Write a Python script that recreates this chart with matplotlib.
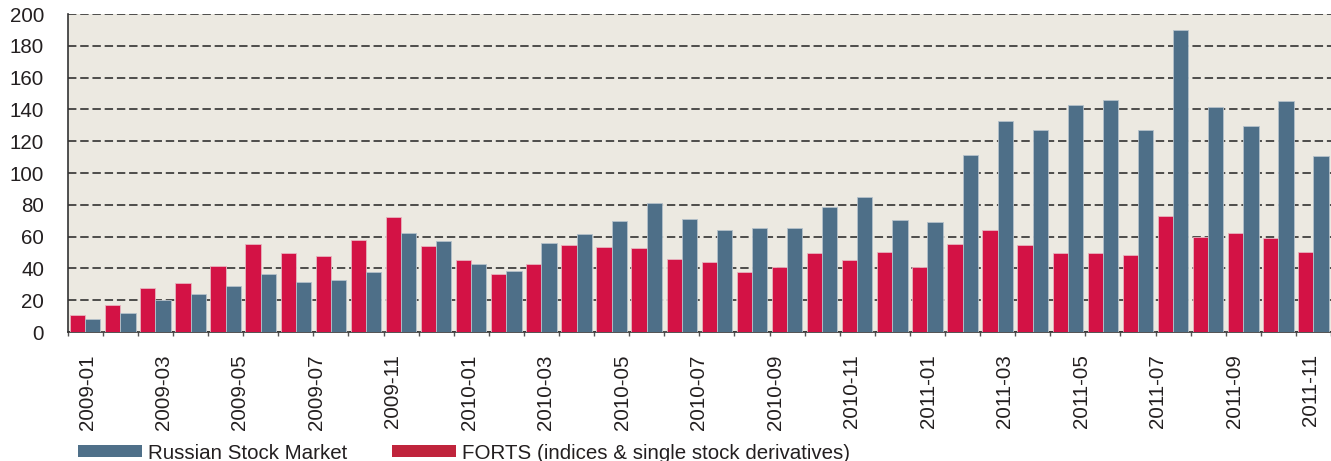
import numpy as np
import matplotlib
matplotlib.use('Agg')
import matplotlib.pyplot as plt
from matplotlib.patches import Patch

months = ['2009-01', '2009-02', '2009-03', '2009-04', '2009-05', '2009-06',
          '2009-07', '2009-08', '2009-09', '2009-10', '2009-11', '2009-12',
          '2010-01', '2010-02', '2010-03', '2010-04', '2010-05', '2010-06',
          '2010-07', '2010-08', '2010-09', '2010-10', '2010-11', '2010-12',
          '2011-01', '2011-02', '2011-03', '2011-04', '2011-05', '2011-06',
          '2011-07', '2011-08', '2011-09', '2011-10', '2011-11', '2011-12']

forts = [10.9, 17.0, 27.7, 31.0, 41.7, 55.6, 49.5, 47.6, 57.9, 72.1, 54.3, 45.5,
         36.3, 42.6, 54.5, 53.5, 53.0, 46.1, 44.0, 37.7, 40.9, 49.5, 45.3, 50.3,
         41.1, 55.3, 64.2, 54.7, 49.5, 49.5, 48.6, 73.2, 60.0, 62.3, 59.3, 50.1]

stock = [8.4, 11.7, 20.1, 24.1, 28.7, 36.3, 31.4, 32.7, 37.5, 62.3, 57.0, 43.0,
         38.6, 56.0, 61.6, 69.8, 81.1, 70.9, 64.2, 65.4, 65.2, 78.8, 84.7, 70.4,
         69.0, 111.1, 132.5, 127.0, 142.6, 145.9, 127.0, 189.7, 141.3, 129.4, 145.1, 110.9]

tick_labels = ['2009-01', '2009-03', '2009-05', '2009-07', '2009-11',
               '2010-01', '2010-03', '2010-05', '2010-07', '2010-09', '2010-11',
               '2011-01', '2011-03', '2011-05', '2011-07', '2011-09', '2011-11']

series_names = ['Russian Stock Market', 'FORTS (indices & single stock derivatives)']

plt.rcParams['font.family'] = ['Liberation Sans', 'DejaVu Sans']
FS = 14.8

W, H = 1331, 461
fig = plt.figure(figsize=(W / 100, H / 100), dpi=100)
left_px, top_px, bot_px = 67.7, 14, 332
ax = fig.add_axes([left_px / W, 1 - bot_px / H, 1 - left_px / W, (bot_px - top_px) / H])
ax.set_facecolor('#ECE9E1')

x = np.arange(len(months))
w = 0.434
blue = '#4E6F88'
red = '#D31245'
ax.bar(x - w / 2, forts, w, color=red, edgecolor='#E7B3BF', linewidth=0.6, zorder=3)
ax.bar(x + w / 2, stock, w, color=blue, edgecolor='#B5C1CA', linewidth=0.6, zorder=3)

group_px = 35.33
ax.set_xlim(-0.5, -0.5 + (W - left_px) / group_px)
ax.set_ylim(0, 200)
ax.set_yticks(np.arange(0, 201, 20))
ax.yaxis.grid(True, linestyle=(0, (5.5, 2.5)), color='#222222', lw=1.1, zorder=0)
ax.set_axisbelow(True)

for s in ['top', 'right']:
    ax.spines[s].set_visible(False)
for s in ['left', 'bottom']:
    ax.spines[s].set_color('#333333')
    ax.spines[s].set_linewidth(1.2)

ax.set_xticks(np.linspace(0.05, 34.92, len(tick_labels)))
ax.set_xticklabels(tick_labels, rotation=90, fontsize=FS, color='#231F20')
ax.set_xticks(np.arange(-0.5, len(months), 1), minor=True)
ax.tick_params(axis='x', which='major', length=0, pad=16)
ax.tick_params(axis='x', which='minor', length=3, width=1, color='#555555', direction='out')
ax.tick_params(axis='y', length=0, pad=17, labelsize=FS, labelcolor='#231F20')

handles = [Patch(facecolor='#4F7089', label=series_names[0]),
           Patch(facecolor='#C0243C', label=series_names[1])]
fig.legend(handles=handles, loc='center left', bbox_to_anchor=(78 / W, 1 - 453 / H),
           ncol=2, frameon=False, fontsize=FS, handlelength=3.1, handleheight=0.52,
           handletextpad=0.3, columnspacing=2.2, borderpad=0, borderaxespad=0,
           labelcolor='#231F20')

fig.savefig('out.png', dpi=100)
